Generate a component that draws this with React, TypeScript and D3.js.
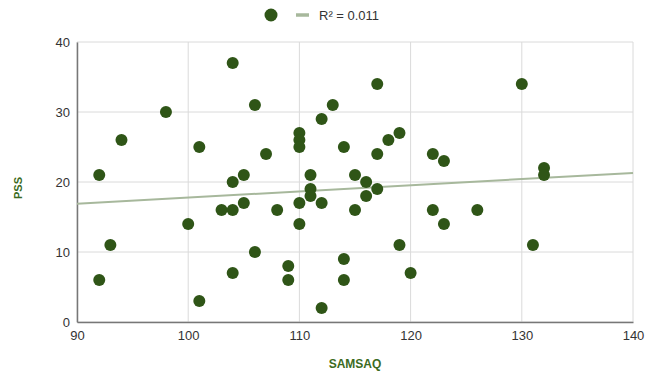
import React, { useEffect, useRef } from "react";
import * as d3 from "d3";

// SAMSAQ (x) vs PSS (y)
const samsaq = [
  92, 92, 93, 94, 98, 100, 101, 101, 103, 104, 104, 104, 104, 105, 105, 106, 106, 107, 108, 109, 109,
  110, 110, 110, 110, 110, 111, 111, 111, 112, 112, 112, 113, 114, 114, 114, 115, 115, 116, 116,
  117, 117, 117, 118, 119, 119, 120, 122, 122, 123, 123, 126, 130, 131, 132, 132,
];
const pss = [
  21, 6, 11, 26, 30, 14, 25, 3, 16, 37, 20, 16, 7, 21, 17, 31, 10, 24, 16, 8, 6,
  27, 26, 25, 17, 14, 21, 19, 18, 29, 17, 2, 31, 25, 9, 6, 21, 16, 20, 18,
  34, 24, 19, 26, 27, 11, 7, 24, 16, 23, 14, 16, 34, 11, 22, 21,
];
// trendline endpoints
const trendX = [90, 140];
const trendY = [16.9, 21.3];
const xTicks = [90, 100, 110, 120, 130, 140];
const yTicks = [0, 10, 20, 30, 40];

export default function App() {
  const svgRef = useRef<SVGSVGElement>(null);

  useEffect(() => {
    const width = 648;
    const height = 372;
    const margin = { top: 42, right: 15, bottom: 50, left: 77 };
    const innerWidth = width - margin.left - margin.right;
    const innerHeight = height - margin.top - margin.bottom;

    const svg = d3.select(svgRef.current);
    svg.selectAll("*").remove();

    const g = svg.append("g").attr("transform", `translate(${margin.left},${margin.top})`);

    const x = d3.scaleLinear().domain([90, 140]).range([0, innerWidth]);
    const y = d3.scaleLinear().domain([0, 40]).range([innerHeight, 0]);

    // grid
    g.append("g")
      .selectAll("line")
      .data(xTicks)
      .join("line")
      .attr("x1", (d) => x(d))
      .attr("x2", (d) => x(d))
      .attr("y1", 0)
      .attr("y2", innerHeight)
      .attr("stroke", "#dadada")
      .attr("stroke-width", 1);
    g.append("g")
      .selectAll("line")
      .data(yTicks)
      .join("line")
      .attr("x1", 0)
      .attr("x2", innerWidth)
      .attr("y1", (d) => y(d))
      .attr("y2", (d) => y(d))
      .attr("stroke", "#dadada")
      .attr("stroke-width", 1);

    // axes
    const xAxis = g
      .append("g")
      .attr("transform", `translate(0,${innerHeight})`)
      .call(d3.axisBottom(x).tickValues(xTicks).tickSize(0).tickPadding(9));
    xAxis.select(".domain").attr("stroke", "#777").attr("stroke-width", 1.5);
    xAxis.selectAll("text").attr("font-size", 13).attr("fill", "#333").attr("font-family", "Liberation Sans, Arial, sans-serif");

    const yAxis = g.append("g").call(d3.axisLeft(y).tickValues(yTicks).tickSize(0).tickPadding(7));
    yAxis.select(".domain").attr("stroke", "#777").attr("stroke-width", 1.5);
    yAxis.selectAll("text").attr("font-size", 13).attr("fill", "#333").attr("font-family", "Liberation Sans, Arial, sans-serif");

    // trendline
    g.append("line")
      .attr("x1", x(trendX[0]))
      .attr("y1", y(trendY[0]))
      .attr("x2", x(trendX[1]))
      .attr("y2", y(trendY[1]))
      .attr("stroke", "#a7b89c")
      .attr("stroke-width", 2);

    // points
    g.append("g")
      .selectAll("circle")
      .data(samsaq.map((v, i) => [v, pss[i]]))
      .join("circle")
      .attr("cx", (d) => x(d[0]))
      .attr("cy", (d) => y(d[1]))
      .attr("r", 6)
      .attr("fill", "#2f5517");

    // axis titles
    svg.append("text")
      .attr("x", margin.left + innerWidth / 2)
      .attr("y", 368)
      .attr("text-anchor", "middle")
      .attr("font-family", "Liberation Sans, Arial, sans-serif")
      .attr("font-weight", "bold")
      .attr("font-size", 12)
      .attr("fill", "#3b6b22")
      .text("SAMSAQ");

    svg.append("text")
      .attr("transform", `translate(22,188) rotate(-90)`)
      .attr("text-anchor", "middle")
      .attr("font-family", "Liberation Sans, Arial, sans-serif")
      .attr("font-weight", "bold")
      .attr("font-size", 11)
      .attr("fill", "#3b6b22")
      .text("PSS");

    // legend
    const lg = svg.append("g");
    lg.append("circle").attr("cx", 271).attr("cy", 15).attr("r", 6.5).attr("fill", "#2f5517");
    lg.append("line")
      .attr("x1", 296)
      .attr("x2", 309)
      .attr("y1", 15)
      .attr("y2", 15)
      .attr("stroke", "#a7b89c")
      .attr("stroke-width", 3.5);
    lg.append("text")
      .attr("x", 319)
      .attr("y", 19.5)
      .attr("font-family", "Liberation Sans, Arial, sans-serif")
      .attr("font-size", 13)
      .attr("fill", "#333")
      .text("R² = 0.011");
  }, []);

  return (
    <svg
      ref={svgRef}
      width={648}
      height={372}
      style={{ position: "absolute", left: 0, top: 0, background: "#fff" }}
    />
  );
}
